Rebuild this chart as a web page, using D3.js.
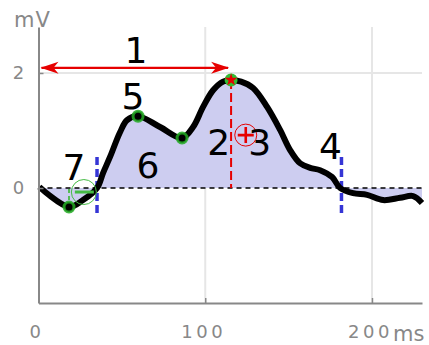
<!DOCTYPE html>
<html>
<head>
<meta charset="utf-8">
<script src="https://cdn.jsdelivr.net/npm/d3@7"></script>
<style>
  body { margin: 0; background: #fff; }
  svg text { font-family: "DejaVu Sans", sans-serif; }
</style>
</head>
<body>
<svg id="chart" width="429" height="345"></svg>
<script>
// data
var timeMs  = [0.5, 18.3, 26.7, 35.1, 38.7, 42.9, 48.9, 53.1, 59.7, 72.9, 86.1, 92.7, 98.7, 104.7,
               110.7, 115.5, 121.5, 128.7, 137.1, 144.9, 150.9, 156.9, 162.9, 168.9, 176.1, 180.9,
               188.7, 197.1, 206.7, 216.9, 224.7, 230];
var voltage = [0.02, -0.33, -0.21, 0, 0.26, 0.54, 0.97, 1.18, 1.25, 1.06, 0.87, 1.06, 1.41, 1.70,
               1.85, 1.88, 1.85, 1.74, 1.41, 1.01, 0.66, 0.43, 0.35, 0.31, 0.19, 0,
               -0.09, -0.12, -0.21, -0.17, -0.14, -0.26];
var xTicks = [0, 100, 200];
var yTicks = [0, 2];
var greenMarks = [1, 8, 10];  // indices of the green dots
var peakIdx = 15;             // red star
var boundMs = [35.1, 181.7];  // blue dashed limits
var labelText = ["1", "2", "3", "4", "5", "6", "7"];
var labelMs   = [58.4, 108.1, 132.6, 175.1, 56.6, 65.6, 21.3];
var labelMv   = [2.17, 0.57, 0.57, 0.50, 1.37, 0.17, 0.14];
var arrowMv = 2.09;

var svg = d3.select("#chart");

var x = d3.scaleLinear().domain([0, 230]).range([38.5, 422]);
var y = d3.scaleLinear().domain([-2, 2.8]).range([303, 27]);

var defs = svg.append("defs");
defs.append("marker").attr("id", "ahEnd")
  .attr("markerUnits", "userSpaceOnUse").attr("orient", "auto")
  .attr("viewBox", "-20 -8 22 16").attr("markerWidth", 22).attr("markerHeight", 16)
  .attr("refX", 0).attr("refY", 0)
  .append("path").attr("d", "M1,0 L-17,-6 L-12,0 L-17,6 Z").attr("fill", "#e60000");
defs.append("marker").attr("id", "ahStart")
  .attr("markerUnits", "userSpaceOnUse").attr("orient", "auto-start-reverse")
  .attr("viewBox", "-20 -8 22 16").attr("markerWidth", 22).attr("markerHeight", 16)
  .attr("refX", 0).attr("refY", 0)
  .append("path").attr("d", "M1,0 L-17,-6 L-12,0 L-17,6 Z").attr("fill", "#e60000");

// grid
var grid = svg.append("g").attr("stroke", "#e6e6e6").attr("stroke-width", 2);
grid.selectAll("line.v").data(xTicks.slice(1)).enter().append("line")
  .attr("x1", function(d){ return x(d); }).attr("x2", function(d){ return x(d); })
  .attr("y1", y(2.8)).attr("y2", y(-2));
grid.append("line").attr("x1", x(0)).attr("x2", x(230)).attr("y1", y(2)).attr("y2", y(2));

// filled area + zero line
var curveType = d3.curveCatmullRom.alpha(0.5);
var pts = timeMs.map(function(t, i){ return [t, voltage[i]]; });
svg.append("path").datum(pts)
  .attr("fill", "#cdcdf0")
  .attr("d", d3.area().x(function(d){ return x(d[0]); }).y0(y(0)).y1(function(d){ return y(d[1]); }).curve(curveType));

svg.append("line").attr("x1", x(0)).attr("x2", x(230)).attr("y1", y(0)).attr("y2", y(0))
  .attr("stroke", "#000").attr("stroke-width", 1.6).attr("stroke-dasharray", "5,4");

// red dashed at peak, green dashed at minimum
svg.append("line").attr("x1", x(timeMs[peakIdx])).attr("x2", x(timeMs[peakIdx]))
  .attr("y1", y(voltage[peakIdx])).attr("y2", y(0))
  .attr("stroke", "#e60000").attr("stroke-width", 2).attr("stroke-dasharray", "9,4");
svg.append("line").attr("x1", x(timeMs[1])).attr("x2", x(timeMs[1]))
  .attr("y1", y(voltage[1])).attr("y2", y(0))
  .attr("stroke", "#55bb55").attr("stroke-width", 2).attr("stroke-dasharray", "4,3");

// blue limits
svg.selectAll("line.bound").data(boundMs).enter().append("line")
  .attr("x1", function(d){ return x(d); }).attr("x2", function(d){ return x(d); })
  .attr("y1", y(0.54)).attr("y2", y(-0.5))
  .attr("stroke", "#3535d5").attr("stroke-width", 3.5).attr("stroke-dasharray", "8,4");

// red arrow
svg.append("line").attr("x1", x(0) + 3).attr("x2", x(timeMs[peakIdx]) - 3)
  .attr("y1", y(arrowMv)).attr("y2", y(arrowMv))
  .attr("stroke", "#e60000").attr("stroke-width", 2.2)
  .attr("marker-end", "url(#ahEnd)").attr("marker-start", "url(#ahStart)");

// curve
svg.append("path").datum(pts)
  .attr("fill", "none").attr("stroke", "#000").attr("stroke-width", 6)
  .attr("stroke-linejoin", "round").attr("stroke-linecap", "butt")
  .attr("d", d3.line().x(function(d){ return x(d[0]); }).y(function(d){ return y(d[1]); }).curve(curveType));

// markers
svg.selectAll("circle.mk").data(greenMarks).enter().append("circle")
  .attr("cx", function(i){ return x(timeMs[i]); }).attr("cy", function(i){ return y(voltage[i]); })
  .attr("r", 5).attr("fill", "#000").attr("stroke", "#22aa22").attr("stroke-width", 3).attr("stroke-opacity", 0.85);
svg.append("circle").attr("cx", x(timeMs[peakIdx])).attr("cy", y(voltage[peakIdx]))
  .attr("r", 6.5).attr("fill", "#33bb33");
svg.append("path")
  .attr("transform", "translate(" + x(timeMs[peakIdx]) + "," + y(voltage[peakIdx]) + ")")
  .attr("d", d3.symbol().type(d3.symbolStar).size(50)())
  .attr("fill", "#e60000");

// circled plus / minus
var plusC = [124.3, 0.92], minusC = [27.2, -0.07];
svg.append("circle").attr("cx", x(plusC[0])).attr("cy", y(plusC[1])).attr("r", 11)
  .attr("fill", "none").attr("stroke", "#e60000").attr("stroke-width", 1);
svg.append("path")
  .attr("d", "M" + (x(plusC[0]) - 8) + "," + y(plusC[1]) + "h16M" + x(plusC[0]) + "," + (y(plusC[1]) - 8) + "v16")
  .attr("stroke", "#e60000").attr("stroke-width", 2.6);
svg.append("circle").attr("cx", x(minusC[0])).attr("cy", y(minusC[1])).attr("r", 12.5)
  .attr("fill", "none").attr("stroke", "#44bb44").attr("stroke-width", 1);
svg.append("line").attr("x1", x(minusC[0]) - 9).attr("x2", x(minusC[0]) + 10)
  .attr("y1", y(minusC[1])).attr("y2", y(minusC[1]))
  .attr("stroke", "#44bb44").attr("stroke-width", 3);

// number labels
svg.selectAll("text.num").data(labelText).enter().append("text")
  .attr("x", function(d, i){ return x(labelMs[i]); })
  .attr("y", function(d, i){ return y(labelMv[i]); })
  .attr("text-anchor", "middle").attr("font-size", 36).attr("fill", "#000")
  .text(function(d){ return d; });

// axes
var xAxis = d3.axisBottom(x).tickValues(xTicks).tickSize(-5).tickSizeOuter(0).tickPadding(22)
  .tickFormat(d3.format("d"));
var yAxis = d3.axisLeft(y).tickValues(yTicks).tickSize(-5).tickSizeOuter(0)
  .tickFormat(d3.format("d"));

svg.append("g").attr("transform", "translate(0," + y(-2) + ")").call(xAxis)
  .call(function(g){
    g.select(".domain").attr("stroke", "#888").attr("stroke-width", 2);
    g.selectAll(".tick line").attr("stroke", "#888").attr("stroke-width", 1.5);
    g.selectAll(".tick text").attr("fill", "#888").attr("font-size", 18)
      .attr("letter-spacing", 3.5).attr("dx", "-2").attr("font-family", "DejaVu Sans");
  });
svg.append("g").attr("transform", "translate(" + x(0) + ",0)").call(yAxis)
  .call(function(g){
    g.select(".domain").attr("stroke", "#888").attr("stroke-width", 2);
    g.selectAll(".tick line").attr("stroke", "#888").attr("stroke-width", 1.5);
    g.selectAll(".tick text").attr("fill", "#888").attr("font-size", 18)
      .attr("text-anchor", "middle").attr("x", -20).attr("font-family", "DejaVu Sans");
  });

svg.append("text").attr("x", 14).attr("y", 27).attr("fill", "#888").attr("font-size", 21)
  .attr("letter-spacing", 1).text("mV");
svg.append("text").attr("x", 393).attr("y", 341).attr("fill", "#888").attr("font-size", 21).text("ms");
</script>
</body>
</html>
